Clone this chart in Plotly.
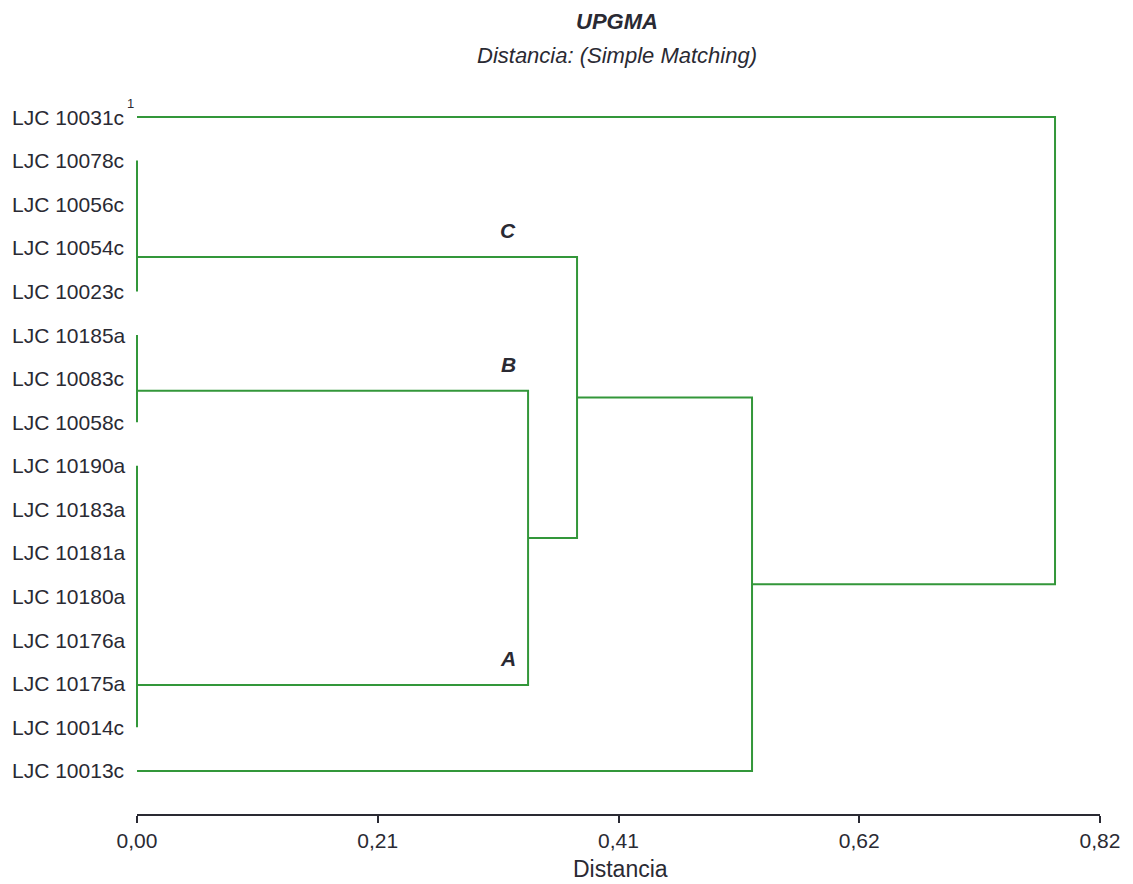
import plotly.graph_objects as go

# ---------------- data ----------------
leaves = ["LJC 10031c", "LJC 10078c", "LJC 10056c", "LJC 10054c", "LJC 10023c",
          "LJC 10185a", "LJC 10083c", "LJC 10058c", "LJC 10190a", "LJC 10183a",
          "LJC 10181a", "LJC 10180a", "LJC 10176a", "LJC 10175a", "LJC 10014c",
          "LJC 10013c"]
leaf_note = {"LJC 10031c": "1"}

# groups joined at distance 0 (leaf row indices) and the row where they connect
group_names = ["C", "B", "A"]
group_members = [[1, 2, 3, 4], [5, 6, 7], [8, 9, 10, 11, 12, 13, 14]]
group_connect_row = [3.21, 6.28, 13.03]

# successive UPGMA merges
merge_names = ["AB", "ABC", "ABC13", "ROOT"]
merge_left = ["B", "C", "ABC", "LJC 10031c"]
merge_right = ["A", "AB", "LJC 10013c", "ABC13"]
merge_heights = [0.333, 0.3747, 0.5237, 0.7817]

tick_vals = [0.0, 0.205, 0.41, 0.615, 0.82]
tick_text = ["0,00", "0,21", "0,41", "0,62", "0,82"]

# ---------------- build dendrogram ----------------
GREEN = "#33973a"
TXT = "#2a2a33"
FONT = "Liberation Sans, Arial, sans-serif"

pos = {}
for i, name in enumerate(leaves):
    pos[name] = (0.0, float(i))

xs, ys = [], []
for g, mem, r in zip(group_names, group_members, group_connect_row):
    pos[g] = (0.0, r)
    xs += [0.0, 0.0, None]
    ys += [min(mem), max(mem), None]

for name, l, r, h in zip(merge_names, merge_left, merge_right, merge_heights):
    lx, ly = pos[l]
    rx, ry = pos[r]
    xs += [lx, h, h, rx, None]
    ys += [ly, ly, ry, ry, None]
    pos[name] = (h, (ly + ry) / 2)

fig = go.Figure()
fig.add_trace(go.Scatter(x=xs, y=ys, mode="lines",
                         line=dict(color=GREEN, width=2),
                         hoverinfo="skip", showlegend=False))

OFF = 8  # page body margin
W, H = 1133 - OFF, 884 - OFF
L, R, T, B = 125 - OFF, 21, 95 - OFF, 69
plot_w = W - L - R
ph = H - T - B
px_per_unit = (1100 - 137) / 0.82
x0 = -(137 - (L + OFF)) / px_per_unit
x1 = x0 + plot_w / px_per_unit


def px_x(p):  # page pixel -> paper x
    return (p - OFF - L) / plot_w


def px_y(p):  # page pixel -> paper y
    return (H - B - (p - OFF)) / ph


annotations = []
for i, name in enumerate(leaves):
    annotations.append(dict(x=px_x(10), xref="paper", y=i, yref="y",
                            text=name, showarrow=False, xanchor="left",
                            yanchor="middle",
                            font=dict(family=FONT, size=21, color=TXT)))
    if name in leaf_note:
        annotations.append(dict(x=px_x(125), xref="paper", y=i - 0.32, yref="y",
                                text=leaf_note[name], showarrow=False,
                                xanchor="left", yanchor="middle",
                                font=dict(family=FONT, size=13, color=TXT)))

for g, r in zip(group_names, group_connect_row):
    annotations.append(dict(x=merge_heights[0] - 0.017, xref="x", y=r - 0.6,
                            yref="y", text="<b><i>" + g + "</i></b>",
                            showarrow=False, xanchor="center", yanchor="middle",
                            font=dict(family=FONT, size=21, color=TXT)))

annotations.append(dict(x=px_x(617), xref="paper", y=px_y(22),
                        yref="paper", text="<b><i>UPGMA</i></b>", showarrow=False,
                        xanchor="center", yanchor="middle",
                        font=dict(family=FONT, size=22, color=TXT)))
annotations.append(dict(x=px_x(617), xref="paper", y=px_y(56),
                        yref="paper", text="<i>Distancia: (Simple Matching)</i>",
                        showarrow=False, xanchor="center", yanchor="middle",
                        font=dict(family=FONT, size=22, color=TXT)))
annotations.append(dict(x=px_x(620), xref="paper", y=px_y(869),
                        yref="paper", text="Distancia",
                        showarrow=False, xanchor="center", yanchor="middle",
                        font=dict(family=FONT, size=23, color=TXT)))

fig.update_layout(
    width=W, height=H,
    margin=dict(l=L, r=R, t=T, b=B),
    paper_bgcolor="white", plot_bgcolor="white",
    annotations=annotations,
    shapes=[dict(type="line", xref="x", yref="paper", x0=0, x1=0.82, y0=0, y1=0,
                 line=dict(color="#2a2a33", width=2))],
    xaxis=dict(range=[x0, x1], showgrid=False, zeroline=False, showline=False,
               tickvals=tick_vals, ticktext=tick_text, ticks="outside",
               ticklen=7, tickwidth=2, tickcolor="#2a2a33",
               tickfont=dict(family=FONT, size=21, color=TXT)),
    yaxis=dict(range=[16.01, -0.505], showgrid=False, zeroline=False,
               showline=False, showticklabels=False, ticks=""),
)

fig.write_html("out.html")
